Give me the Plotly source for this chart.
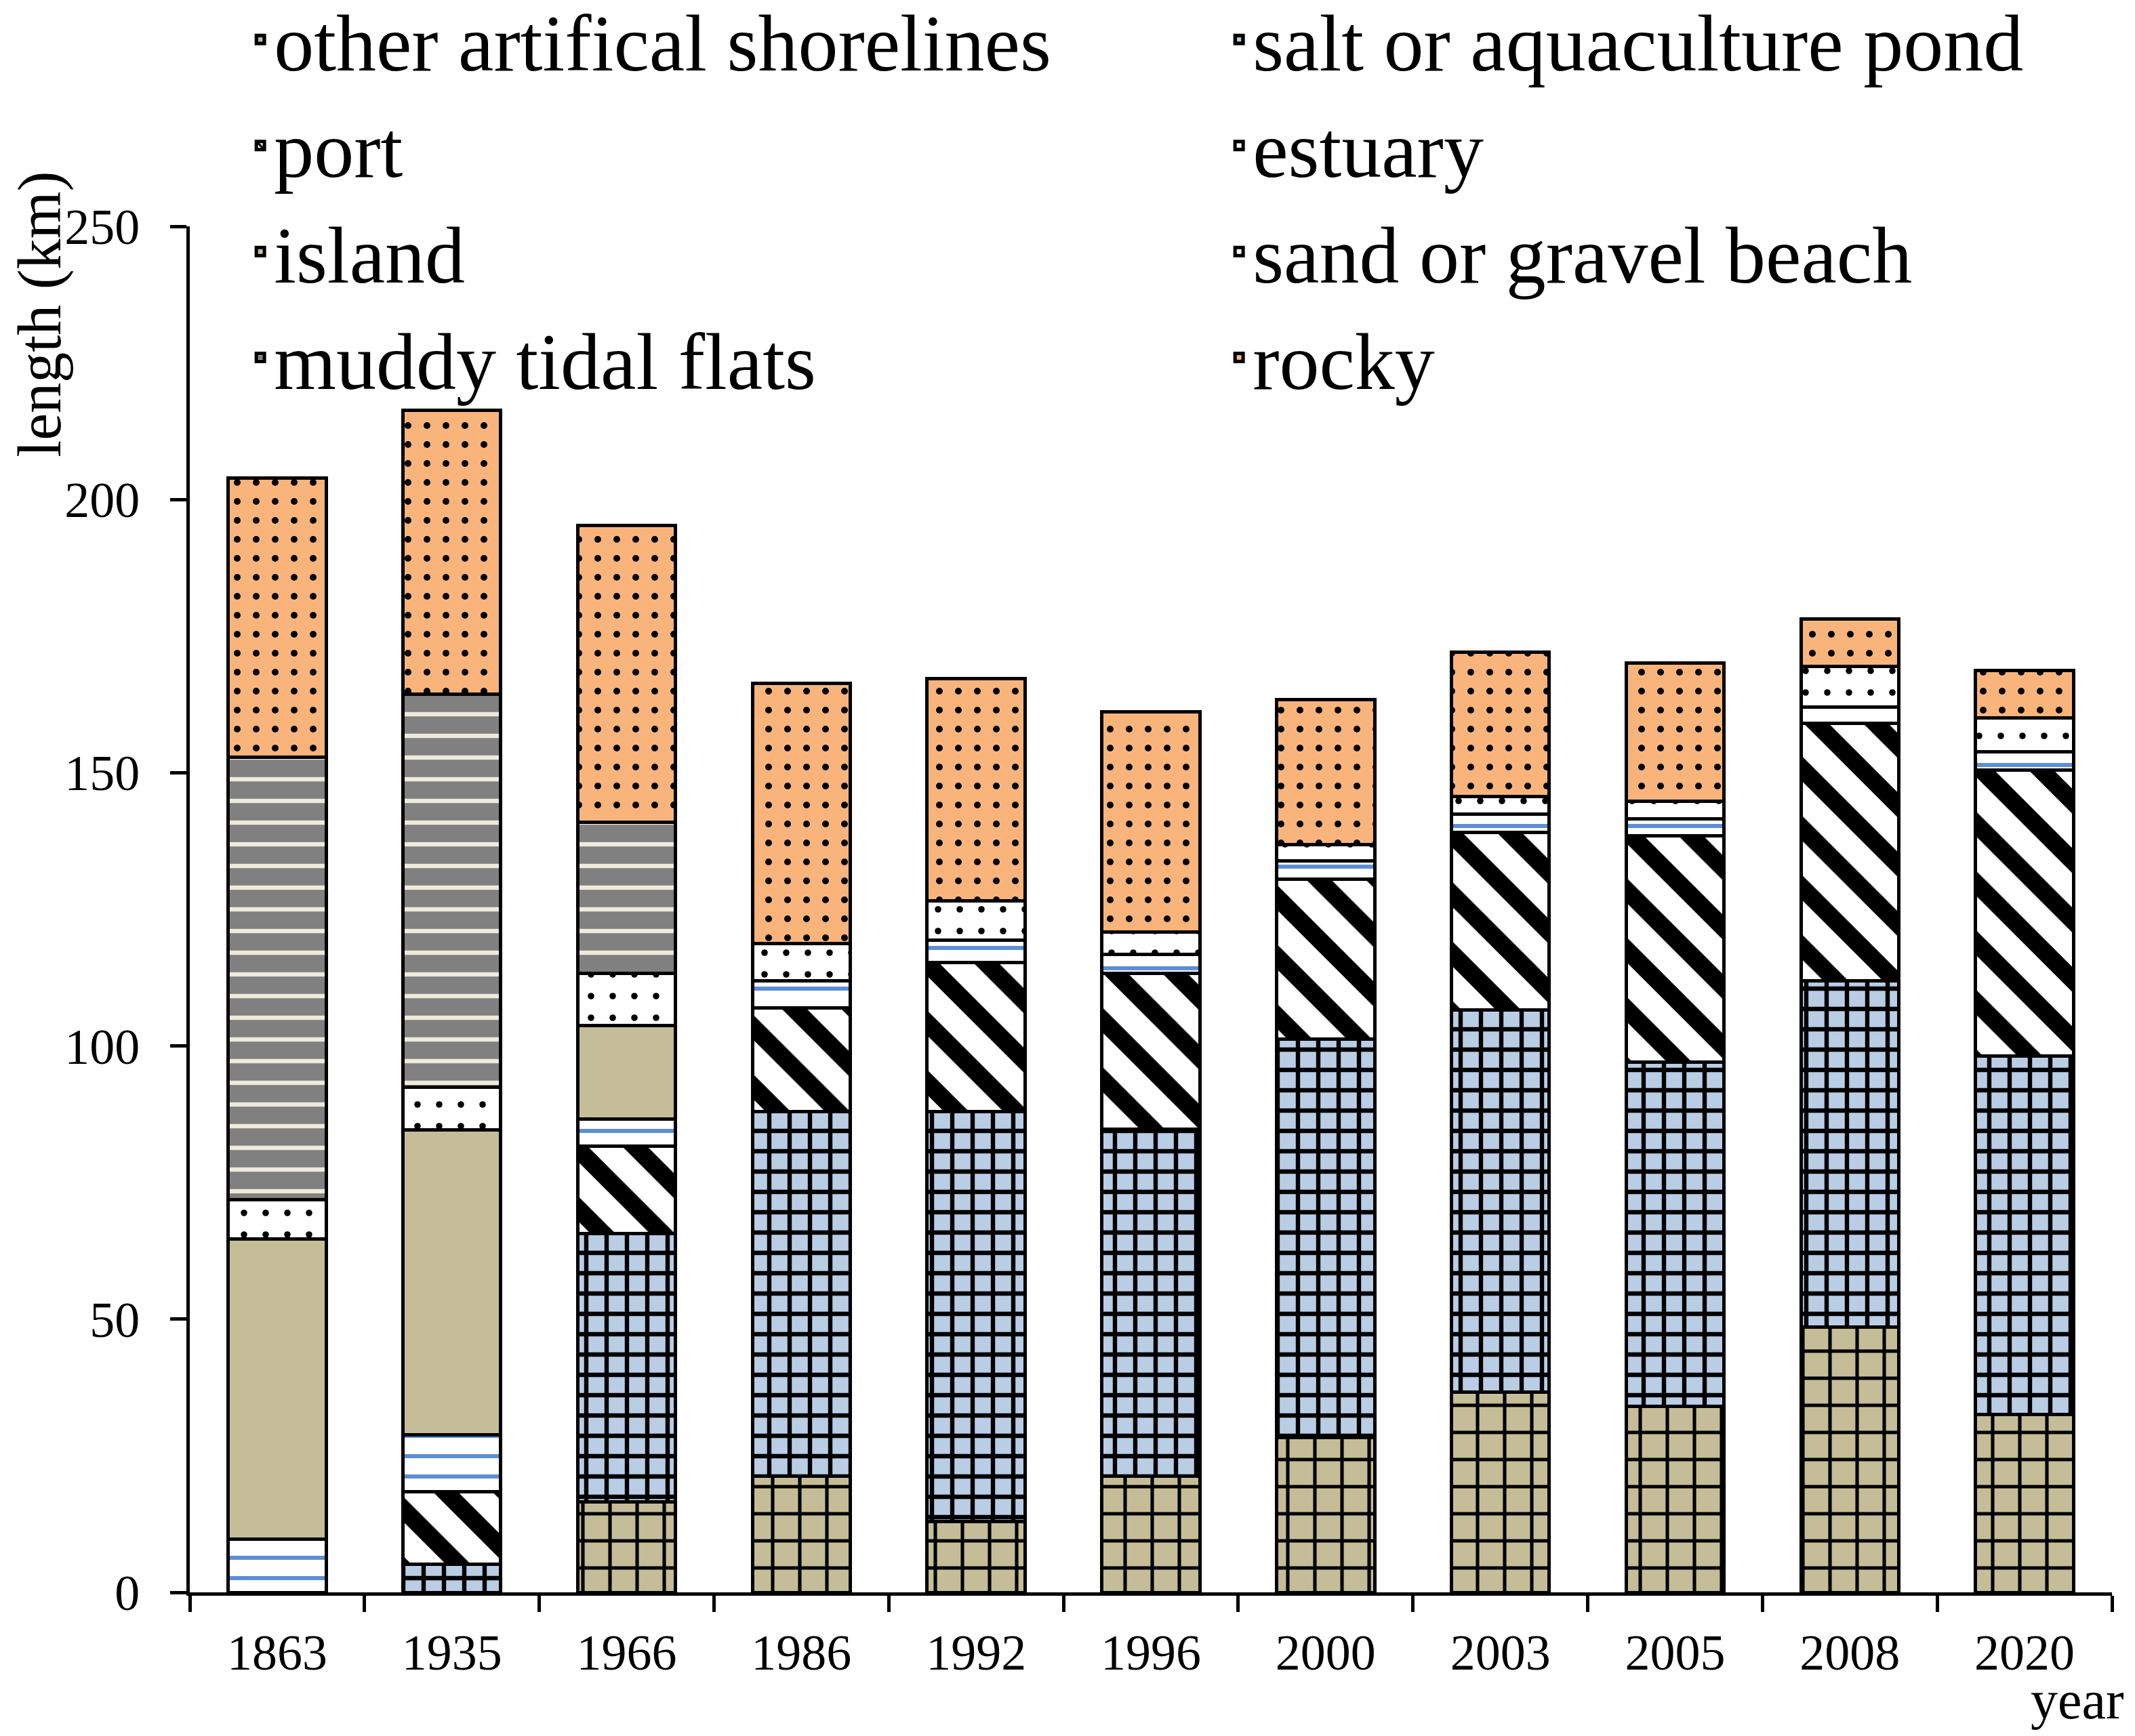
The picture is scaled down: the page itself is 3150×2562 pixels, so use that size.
import plotly.graph_objects as go

years = ["1863", "1935", "1966", "1986", "1992", "1996", "2000", "2003", "2005", "2008", "2020"]

# stacked from bottom to top
other_artificial = [0, 0, 16.6, 21.3, 12.9, 21.3, 28.3, 36.7, 34.0, 48.6, 32.5]
salt_pond = [0, 5.2, 49.1, 66.7, 75.1, 63.5, 72.9, 69.9, 63.0, 63.3, 65.7]
port = [0, 13.2, 15.9, 18.9, 27.3, 28.5, 29.3, 32.5, 41.4, 47.1, 52.3]
estuary = [9.7, 10.4, 5.0, 5.0, 4.0, 3.5, 3.4, 3.3, 3.2, 3.0, 3.3]
island = [55.0, 55.8, 17.1, 0, 0, 0, 0, 0, 0, 0, 0]
sand_beach = [7.2, 7.9, 9.6, 6.9, 7.2, 4.0, 3.0, 3.2, 3.2, 7.4, 6.2]
muddy_flats = [80.9, 71.9, 27.6, 0, 0, 0, 0, 0, 0, 0, 0]
rocky = [51.1, 51.9, 54.3, 47.6, 40.7, 40.4, 26.5, 26.5, 25.3, 8.7, 8.7]

series = [
    ("other artifical shorelines", other_artificial, "#c4bd97", "black", "+", 40, 0.24),
    ("salt or aquaculture pond", salt_pond, "#b9cde5", "black", "+", 30, 0.38),
    ("port", port, "white", "black", "\\", 62, 0.42),
    ("estuary", estuary, "white", "#5b8fd6", "-", 30, 0.2),
    ("island", island, "#c4bd97", "#c4bd97", "", 10, 0.1),
    ("sand or gravel beach", sand_beach, "white", "black", ".", 32, 0.07),
    ("muddy tidal flats", muddy_flats, "#808080", "#eeeadc", "-", 32, 0.2),
    ("rocky", rocky, "#f9b47c", "black", ".", 28, 0.1),
]

fig = go.Figure()
for name, vals, bg, fg, shape, size, sol in series:
    fig.add_trace(go.Bar(
        x=years, y=vals, name=name, width=0.56,
        marker=dict(
            color=bg,
            line=dict(color="black", width=5),
            pattern=dict(shape=shape, bgcolor=bg, fgcolor=fg, fgopacity=1,
                         size=size, solidity=sol),
        ),
    ))

font = "Liberation Serif, Times New Roman, serif"

fig.update_layout(
    barmode="stack",
    width=3150, height=2562,
    margin=dict(l=272, r=42, t=326, b=220, autoexpand=False),
    plot_bgcolor="white", paper_bgcolor="white",
    font=dict(family=font, color="black", size=74),
    legend=dict(
        orientation="h", x=-0.001, y=1.178, xanchor="left", yanchor="top",
        entrywidth=1312, indentation=87, font=dict(size=118, family=font),
        traceorder="normal", bgcolor="rgba(0,0,0,0)",
    ),
    xaxis=dict(
        type="category", showline=True, linecolor="black", linewidth=5,
        ticks="outside", ticklen=24, tickwidth=5, tickcolor="black",
        tickson="boundaries", showgrid=False, ticklabelstandoff=20,
    ),
    yaxis=dict(
        range=[0, 250], dtick=50, showline=True, linecolor="black", linewidth=5,
        ticks="outside", ticklen=24, tickwidth=5, tickcolor="black",
        showgrid=False, zeroline=False, ticklabelstandoff=30,
    ),
    annotations=[
        dict(text="length (km)", xref="paper", yref="paper", x=-0.078, y=0.9355,
             xanchor="center", yanchor="middle",
             textangle=-90, showarrow=False, font=dict(size=90)),
        dict(text="year", xref="paper", yref="paper", x=0.982, y=-0.079,
             xanchor="center", yanchor="middle",
             showarrow=False, font=dict(size=80)),
    ],
)

fig.write_html("out.html")
